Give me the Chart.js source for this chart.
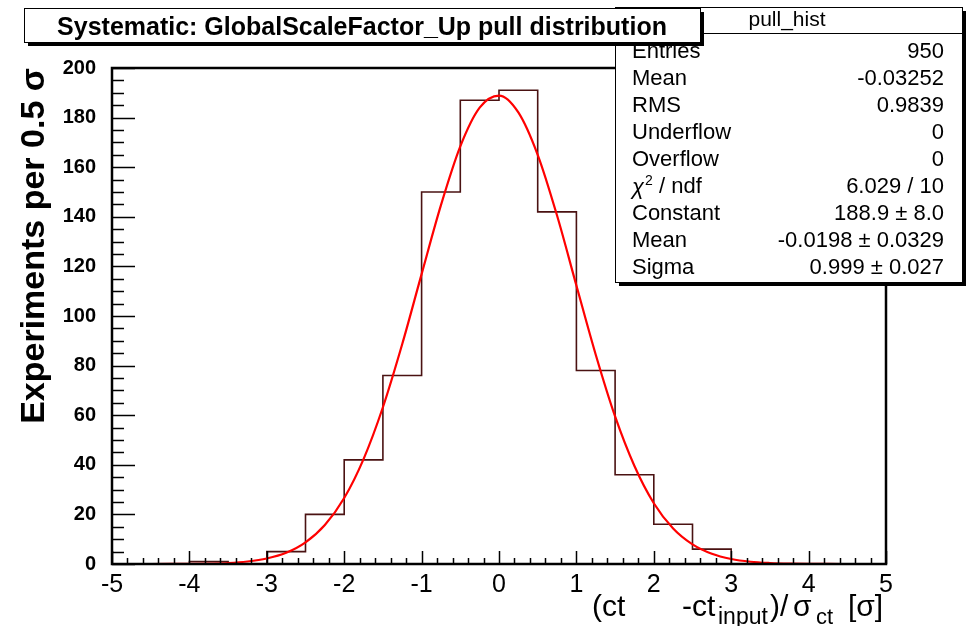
<!DOCTYPE html>
<html>
<head>
<meta charset="utf-8">
<script src="https://cdn.jsdelivr.net/npm/chart.js@4"></script>
<style>
  html, body { margin: 0; padding: 0; background: #fff; }
  #wrap { width: 973px; height: 626px; position: relative; }
</style>
</head>
<body>
<div id="wrap"><canvas id="myChart" width="973" height="626"></canvas></div>
<script>
// histogram: left bin edges, 0.5 sigma bins from -5 to 5
var binEdges = [-5, -4.5, -4, -3.5, -3, -2.5, -2, -1.5, -1, -0.5, 0, 0.5, 1, 1.5, 2, 2.5, 3, 3.5, 4, 4.5];
var binCounts = [0, 0, 1, 0, 5, 20, 42, 76, 150, 187, 191, 142, 78, 36, 16, 6, 0, 0, 0, 0];

// gaussian fit curve
var fitX = [-5, -4.75, -4.5, -4.25, -4, -3.75, -3.5, -3.25, -3, -2.75, -2.5, -2.25, -2, -1.75, -1.5, -1.25, -1, -0.75, -0.5, -0.25,
            0, 0.25, 0.5, 0.75, 1, 1.25, 1.5, 1.75, 2, 2.25, 2.5, 2.75, 3, 3.25, 3.5, 3.75, 4, 4.25, 4.5, 4.75, 5];
var fitY = [0, 0, 0, 0.02, 0.07, 0.18, 0.4, 1.0, 2.2, 4.5, 8.7, 15.7, 26.6, 42.3, 63.2, 88.7, 116.9, 144.7, 168.4, 184.0,
            188.9, 182.1, 165.0, 140.5, 112.3, 84.4, 59.5, 39.5, 24.5, 14.3, 7.9, 4.1, 2.0, 0.9, 0.4, 0.16, 0.06, 0.02, 0, 0, 0];

var statLabels = ['Entries', 'Mean', 'RMS', 'Underflow', 'Overflow', 'chi2', 'Constant', 'Mean', 'Sigma'];
var statValues = ['950', '-0.03252', '0.9839', '0', '0', '6.029 / 10', '188.9 \u00b1 8.0', '-0.0198 \u00b1 0.0329', '0.999 \u00b1 0.027'];

var titleText = 'Systematic: GlobalScaleFactor_Up pull distribution';
var FONT = '"Liberation Sans", Arial, Helvetica, sans-serif';

var histPts = binEdges.map(function (x, i) { return { x: x, y: binCounts[i] }; });
histPts.push({ x: 5, y: binCounts[binCounts.length - 1] });
var fitPts = fitX.map(function (x, i) { return { x: x, y: fitY[i] }; });

// ROOT style frame, inward ticks, stat box, title box, x title
var rootDecor = {
  id: 'rootDecor',
  afterDatasetsDraw: function (chart) {
    var c = chart.ctx, a = chart.chartArea;
    var xs = chart.scales.x, ys = chart.scales.y;
    c.save();

    // ticks
    c.strokeStyle = '#000';
    c.lineWidth = 1.5;
    c.beginPath();
    for (var v = 0; v <= 200; v += 5) {
      var py = Math.round(ys.getPixelForValue(v)) + 0.5;
      var len = (v % 20 === 0) ? 23 : 12;
      c.moveTo(a.left, py); c.lineTo(a.left + len, py);
    }
    for (var k = 0; k <= 50; k++) {
      var xv = -5 + k * 0.2;
      var px = Math.round(xs.getPixelForValue(xv)) + 0.5;
      var l2 = (k % 5 === 0) ? 13 : 6;
      c.moveTo(px, a.bottom); c.lineTo(px, a.bottom - l2);
    }
    c.stroke();

    // frame
    c.lineWidth = 2.5;
    c.strokeRect(a.left, a.top, a.right - a.left, a.bottom - a.top);

    // stats box
    var bx = 615, by = 7, bw = 347, bh = 275;
    c.fillStyle = '#000';
    c.fillRect(bx + 4, by + 4, bw, bh);
    c.fillStyle = '#fff';
    c.fillRect(bx, by, bw, bh);
    c.lineWidth = 1;
    c.strokeRect(bx + 0.5, by + 0.5, bw, bh);
    c.beginPath(); c.moveTo(bx, 33.5); c.lineTo(bx + bw, 33.5); c.stroke();
    c.fillStyle = '#000';
    c.font = '21px ' + FONT;
    c.textBaseline = 'middle';
    c.textAlign = 'center';
    c.fillText('pull_hist', 787, 20);
    for (var i = 0; i < statLabels.length; i++) {
      var ry = 52 + i * 27.0;
      c.textAlign = 'left';
      if (statLabels[i] === 'chi2') {
        c.font = 'italic 22px ' + FONT;
        c.fillText('\u03c7', 632, ry + 1);
        var w = c.measureText('\u03c7').width;
        c.font = '14px ' + FONT;
        c.fillText('2', 632 + w + 1, ry - 6);
        c.font = '22px ' + FONT;
        c.fillText(' / ndf', 632 + w + 9, ry);
      } else {
        c.font = '22px ' + FONT;
        c.fillText(statLabels[i], 632, ry);
      }
      c.textAlign = 'right';
      c.font = '22px ' + FONT;
      c.fillText(statValues[i], 944, ry);
    }

    // title box
    var tx = 24, ty = 8, tw = 676, th = 34;
    c.fillStyle = '#000';
    c.fillRect(tx + 4, ty + 4, tw, th);
    c.fillStyle = '#fff';
    c.fillRect(tx, ty, tw, th);
    c.lineWidth = 1;
    c.strokeRect(tx + 0.5, ty + 0.5, tw, th);
    c.fillStyle = '#000';
    c.font = 'bold 25px ' + FONT;
    c.textAlign = 'center';
    c.textBaseline = 'alphabetic';
    c.fillText(titleText, tx + tw / 2, 35);

    // x axis title: (ct   -ct_input)/sigma_ct [sigma]
    c.textAlign = 'left';
    var base = 616, sub = 624;
    var pieces = [
      ['(ct', 30, base, 592], ['-ct', 30, base, 682], ['input', 23, sub, 718],
      [')/', 30, base, 770], ['\u03c3', 30, base, 793], ['ct', 22, sub, 816], ['[\u03c3]', 30, base, 848]
    ];
    pieces.forEach(function (p) {
      c.font = p[1] + 'px ' + FONT;
      c.fillText(p[0], p[3], p[2]);
    });
    c.restore();
  }
};

var ctx = document.getElementById('myChart').getContext('2d');
var myChart = new Chart(ctx, {
  type: 'line',
  data: {
    datasets: [{
      label: 'fit',
      data: fitPts,
      borderColor: '#ff0000',
      borderWidth: 2.2,
      pointRadius: 0,
      cubicInterpolationMode: 'monotone',
      fill: false
    }, {
      label: 'pull_hist',
      data: histPts,
      borderColor: '#4a1212',
      borderWidth: 1.6,
      pointRadius: 0,
      stepped: true,
      fill: false
    }]
  },
  plugins: [rootDecor],
  options: {
    responsive: false,
    animation: false,
    events: [],
    layout: { padding: { top: 68, right: 87, left: 0, bottom: 0 } },
    plugins: {
      legend: { display: false },
      tooltip: { enabled: false }
    },
    scales: {
      x: {
        type: 'linear',
        min: -5,
        max: 5,
        grid: { display: false },
        border: { display: false },
        ticks: {
          stepSize: 1,
          color: '#000',
          padding: -2,
          maxRotation: 0,
          font: { family: FONT, size: 25 }
        },
        afterFit: function (s) { s.height = 62; }
      },
      y: {
        min: 0,
        max: 200,
        grid: { display: false },
        border: { display: false },
        ticks: {
          stepSize: 20,
          color: '#000',
          padding: 8,
          font: { family: FONT, size: 20, weight: 'bold' }
        },
        title: {
          display: true,
          text: 'Experiments per 0.5 \u03c3',
          align: 'end',
          color: '#000',
          padding: { top: 14, bottom: 0 },
          font: { family: FONT, size: 34, weight: 'bold' }
        },
        afterFit: function (s) { s.width = 112; }
      }
    }
  }
});
</script>
</body>
</html>
